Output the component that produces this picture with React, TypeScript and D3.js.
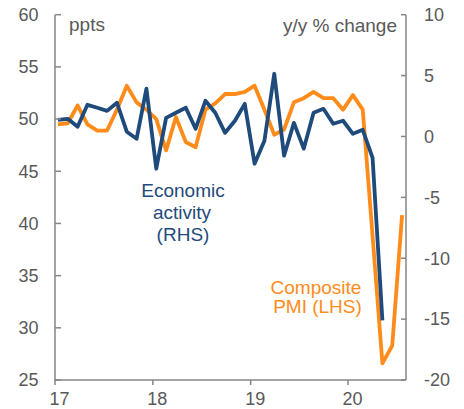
import React from "react";
import * as d3 from "d3";

const pmi = [
  49.5, 49.6, 51.3, 49.5, 48.9, 48.9, 50.9, 53.2, 51.6, 50.9, 50.0, 47.0,
  50.2, 47.8, 47.3, 50.9, 51.5, 52.4, 52.4, 52.6, 53.2, 50.9, 48.5, 49.0,
  51.6, 52.0, 52.6, 52.0, 52.0, 50.9, 52.3, 50.9, 38.8, 26.6, 28.3, 40.8,
];
const activity = [
  1.37, 1.45, 0.8, 2.6, 2.36, 2.1, 2.77, 0.39, -0.19, 3.92, -2.65, 1.53,
  1.95, 2.36, 0.63, 2.93, 1.95, 0.3, 1.29, 2.68, -2.24, -0.35, 5.15, -1.58,
  1.12, -1.0, 1.95, 2.27, 1.04, 1.29, 0.22, 0.55, -1.75, -15.1,
];
const yearLabels = ["17", "18", "19", "20"];
const yearTickIndex = [-0.3, 9.65, 19.6, 29.5];
const leftTicks = [25, 30, 35, 40, 45, 50, 55, 60];
const rightTicks = [-20, -15, -10, -5, 0, 5, 10];

const W = 464;
const H = 409;
const L = 55;
const R = 406;
const T = 14.7;
const B = 380;
const ORANGE = "#FF8C1A";
const BLUE = "#1F4A7C";
const GREY = "#595959";
const AXIS = "#868686";
const FONT = "'Liberation Sans', Arial, sans-serif";

export default function App() {
  const x = d3.scaleLinear().domain([-0.3, 35.4]).range([L, R]);
  const yL = d3.scaleLinear().domain([25, 60]).range([B, T]);
  const yR = d3.scaleLinear().domain([-20, 10]).range([B, T]);

  const pmiLine = d3
    .line<number>()
    .x((_, i) => x(i))
    .y((d) => yL(d))(pmi) as string;
  const actLine = d3
    .line<number>()
    .x((_, i) => x(i))
    .y((d) => yR(d))(activity) as string;

  return (
    <svg
      width={W}
      height={H}
      style={{ position: "absolute", left: 0, top: 0, background: "#fff" }}
      fontFamily={FONT}
    >
      <rect x={0} y={0} width={W} height={H} fill="#fff" />
      <path d={pmiLine} fill="none" stroke={ORANGE} strokeWidth={3.8} strokeLinejoin="round" />
      <path d={actLine} fill="none" stroke={BLUE} strokeWidth={3.8} strokeLinejoin="round" />

      {/* axes */}
      <line x1={L} x2={L} y1={T} y2={B} stroke={AXIS} strokeWidth={1.5} />
      <line x1={R} x2={R} y1={T} y2={B} stroke={AXIS} strokeWidth={1.5} />
      <line x1={L} x2={R} y1={B} y2={B} stroke={AXIS} strokeWidth={1.5} />

      {leftTicks.map((t) => (
        <g key={"l" + t}>
          <line x1={L} x2={L + 6} y1={yL(t)} y2={yL(t)} stroke={AXIS} strokeWidth={1.5} />
          <text x={38.5} y={yL(t)} dy="0.35em" textAnchor="end" fontSize={18} fill={GREY}>
            {t}
          </text>
        </g>
      ))}
      {rightTicks.map((t) => (
        <g key={"r" + t}>
          <line x1={R - 5} x2={R} y1={yR(t)} y2={yR(t)} stroke={AXIS} strokeWidth={1.5} />
          <text x={424} y={yR(t)} dy="0.35em" textAnchor="start" fontSize={18} fill={GREY}>
            {t}
          </text>
        </g>
      ))}
      {yearTickIndex.map((t, i) => (
        <g key={"x" + i}>
          <line x1={x(t)} x2={x(t)} y1={B} y2={B + 5} stroke={AXIS} strokeWidth={1.5} />
          <text x={x(t) + 4.5} y={405} textAnchor="middle" fontSize={18} fill={GREY}>
            {yearLabels[i]}
          </text>
        </g>
      ))}

      <text x={69} y={31} fontSize={19} fill={GREY}>ppts</text>
      <text x={397} y={31.5} fontSize={19} fill={GREY} textAnchor="end">y/y % change</text>

      <g fill={BLUE} fontSize={19} textAnchor="middle">
        <text x={183} y={196.5}>Economic</text>
        <text x={182} y={218.5}>activity</text>
        <text x={183} y={240.5}>(RHS)</text>
      </g>
      <g fill={ORANGE} fontSize={19} textAnchor="middle">
        <text x={316} y={293.5}>Composite</text>
        <text x={317.5} y={312.5}>PMI (LHS)</text>
      </g>
    </svg>
  );
}
